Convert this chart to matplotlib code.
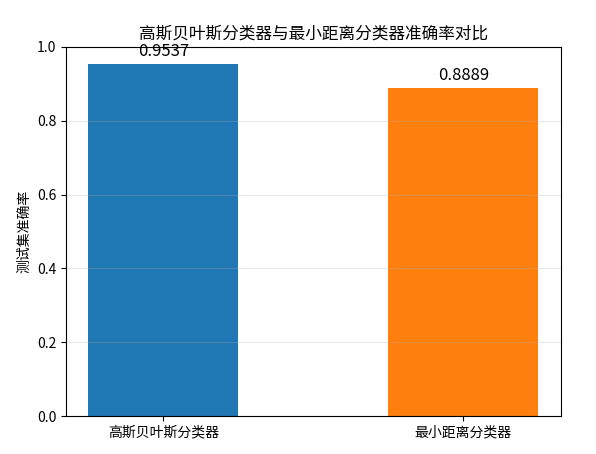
import matplotlib
matplotlib.use('Agg')
import matplotlib.pyplot as plt

plt.rcParams['font.family'] = ['Noto Sans CJK SC', 'DejaVu Sans']
plt.rcParams['axes.unicode_minus'] = False

# 数据
classifiers = ['高斯贝叶斯分类器', '最小距离分类器']
accuracies = [0.9537, 0.8889]
bar_colors = ['#1f77b4', '#ff7f0e']

fig = plt.figure(figsize=(5.96, 4.54), dpi=100)
ax = fig.add_axes([0.1107, 0.0837, 0.8305, 0.8128])

bars = ax.bar(classifiers, accuracies, color=bar_colors, width=0.5)
for b, acc in zip(bars, accuracies):
    ax.text(b.get_x() + b.get_width() / 2, acc + 0.01, f'{acc:.4f}',
            ha='center', va='bottom', fontsize=12)

ax.set_ylim(0, 1.0)
ax.set_ylabel('测试集准确率')
ax.set_title('高斯贝叶斯分类器与最小距离分类器准确率对比', fontsize=12)
ax.grid(axis='y', alpha=0.3)

plt.savefig('out.png', dpi=100)
plt.close()
